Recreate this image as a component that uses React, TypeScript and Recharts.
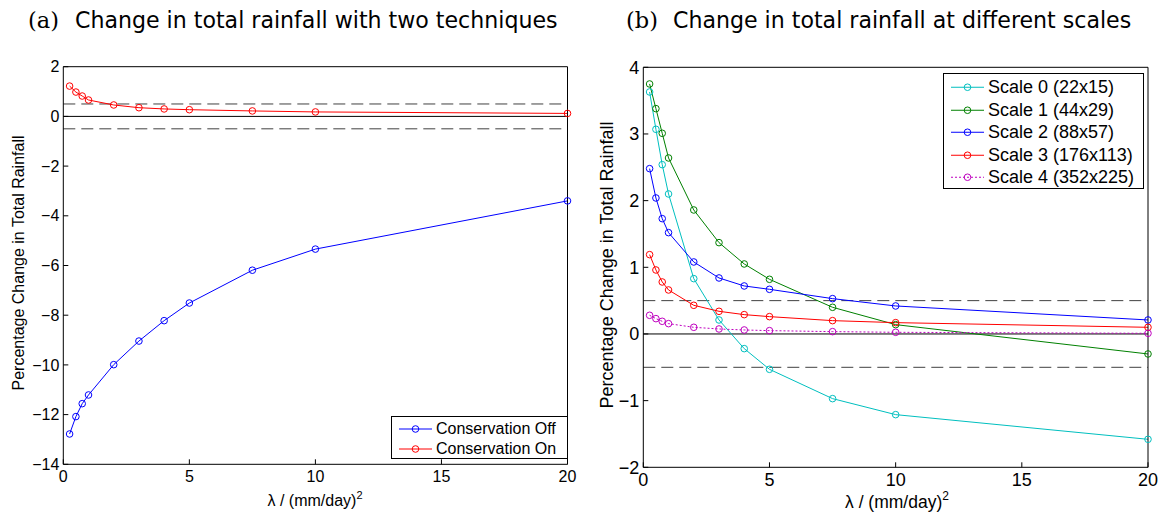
import React from "react";
import { LineChart, Line, XAxis, YAxis, ReferenceLine, Legend } from "recharts";

// lambda values (mm/day)^2, shared by every series
const lambdas = [0.25, 0.5, 0.75, 1, 2, 3, 4, 5, 7.5, 10, 20];

// (a) two techniques
const conservationOff = [-12.78, -12.08, -11.56, -11.21, -9.99, -9.04, -8.22, -7.51, -6.19, -5.34, -3.4];
const conservationOn = [1.22, 0.98, 0.82, 0.66, 0.46, 0.35, 0.3, 0.27, 0.22, 0.18, 0.12];

// (b) different scales
const scale0 = [3.63, 3.07, 2.54, 2.1, 0.83, 0.21, -0.22, -0.53, -0.97, -1.21, -1.58];
const scale1 = [3.75, 3.38, 3.01, 2.64, 1.86, 1.37, 1.05, 0.82, 0.4, 0.14, -0.3];
const scale2 = [2.48, 2.04, 1.73, 1.52, 1.08, 0.84, 0.72, 0.67, 0.53, 0.42, 0.21];
const scale3 = [1.19, 0.96, 0.78, 0.66, 0.43, 0.34, 0.29, 0.26, 0.2, 0.17, 0.1];
const scale4 = [0.28, 0.23, 0.19, 0.155, 0.1, 0.075, 0.06, 0.05, 0.035, 0.025, 0.01];

const xTicks = [0, 5, 10, 15, 20];
const yTicksA = [2, 0, -2, -4, -6, -8, -10, -12, -14];
const yTicksB = [4, 3, 2, 1, 0, -1, -2];
const thresholds = [0.5, -0.5];

const seriesA = [
  { key: "off", name: "Conservation Off", color: "#0000ff", values: conservationOff, dash: undefined },
  { key: "on", name: "Conservation On", color: "#ff0000", values: conservationOn, dash: undefined },
];

const seriesB = [
  { key: "s0", name: "Scale 0 (22x15)", color: "#00bfbf", values: scale0, dash: undefined },
  { key: "s1", name: "Scale 1 (44x29)", color: "#008000", values: scale1, dash: undefined },
  { key: "s2", name: "Scale 2 (88x57)", color: "#0000ff", values: scale2, dash: undefined },
  { key: "s3", name: "Scale 3 (176x113)", color: "#ff0000", values: scale3, dash: undefined },
  { key: "s4", name: "Scale 4 (352x225)", color: "#bf00bf", values: scale4, dash: "2 2" },
];

type Series = { key: string; name: string; color: string; values: number[]; dash?: string };

function buildRows(series: Series[]) {
  return lambdas.map((x, i) => {
    const row: Record<string, number> = { x };
    for (const s of series) row[s.key] = s.values[i];
    return row;
  });
}

const FONT = "'Liberation Sans', Arial, Helvetica, sans-serif";
const minus = (v: number) => String(v).replace("-", "\u2212");

function LegendBox({ items, fontSize, rowHeight, width, height }: {
  items: Series[]; fontSize: number; rowHeight: number; width: number; height: number;
}) {
  return (
    <div style={{ width, height, boxSizing: "border-box", border: "1px solid #000", background: "#fff", paddingTop: 2, fontFamily: FONT }}>
      {items.map(it => (
        <div key={it.key} style={{ display: "flex", alignItems: "center", height: rowHeight }}>
          <svg width={44} height={rowHeight} style={{ flex: "none" }}>
            <line x1={7} x2={40} y1={rowHeight / 2} y2={rowHeight / 2} stroke={it.color} strokeWidth={1} strokeDasharray={it.dash} />
            <circle cx={23.5} cy={rowHeight / 2} r={3.3} stroke={it.color} fill="none" strokeWidth={1} />
          </svg>
          <span style={{ fontSize, color: "#000", whiteSpace: "nowrap", lineHeight: 1 }}>{it.name}</span>
        </div>
      ))}
    </div>
  );
}

// plot box in chart coordinates: left, top, right, bottom edges
function Panel({ series, width, box, yDomain, yTicks, fontSize, legend }: {
  series: Series[];
  width: number;
  box: { left: number; top: number; right: number; bottom: number };
  yDomain: [number, number];
  yTicks: number[];
  fontSize: number;
  legend: { left: number; top: number; width: number; height: number; rowHeight: number; fontSize: number };
}) {
  const rows = buildRows(series);
  const tickStyle = { fontSize, fill: "#000", fontFamily: FONT };
  const axisW = 50;
  const axisH = 30;
  const margin = {
    top: box.top - 1,
    left: box.left - axisW,
    right: width - box.right - 1,
    bottom: 519 - box.bottom - axisH,
  };
  return (
    <LineChart width={width} height={519} data={rows} margin={margin} style={{ fontFamily: FONT }}>
      <XAxis dataKey="x" type="number" domain={[0, 20]} ticks={xTicks} interval={0} height={axisH}
        tickSize={-5} tickMargin={11} tick={tickStyle} axisLine={{ stroke: "#000" }} tickLine={{ stroke: "#000" }} />
      <XAxis xAxisId="top" dataKey="x" type="number" orientation="top" domain={[0, 20]} ticks={xTicks} interval={0}
        height={1} tickSize={-5} tick={false} axisLine={{ stroke: "#000" }} tickLine={{ stroke: "#000" }} />
      <YAxis type="number" domain={yDomain} ticks={yTicks} interval={0} width={axisW} tickSize={-5} tickMargin={9}
        tick={tickStyle} tickFormatter={minus} axisLine={{ stroke: "#000" }} tickLine={{ stroke: "#000" }} />
      <YAxis yAxisId="right" type="number" orientation="right" domain={yDomain} ticks={yTicks} interval={0} width={1}
        tickSize={-5} tick={false} axisLine={{ stroke: "#000" }} tickLine={{ stroke: "#000" }} />
      {thresholds.map(t => (
        <ReferenceLine key={t} y={t} stroke="#404040" strokeWidth={1} strokeDasharray="12 6" />
      ))}
      <ReferenceLine y={0} stroke="#000" strokeWidth={1} />
      {series.map(s => (
        <Line key={s.key} type="linear" dataKey={s.key} name={s.name} stroke={s.color} strokeWidth={1}
          strokeDasharray={s.dash} dot={{ r: 3.3, stroke: s.color, fill: "none", strokeWidth: 1, strokeDasharray: "" }}
          activeDot={false} isAnimationActive={false} />
      ))}
      <Legend layout="vertical" align="center" verticalAlign="middle"
        wrapperStyle={{ left: legend.left, top: legend.top, width: legend.width, height: legend.height }}
        content={() => (
          <LegendBox items={series} fontSize={legend.fontSize} rowHeight={legend.rowHeight}
            width={legend.width} height={legend.height} />
        )} />
    </LineChart>
  );
}

export default function App() {
  return (
    <div style={{ position: "absolute", left: 0, top: 0, width: 1173, height: 519, background: "#fff" }}>
      <div style={{ position: "absolute", left: 0, top: 0 }}>
        <Panel series={seriesA} width={580} box={{ left: 63.3, top: 66.7, right: 567.5, bottom: 464.3 }}
          yDomain={[-14, 2]} yTicks={yTicksA} fontSize={16}
          legend={{ left: 391, top: 416, width: 177, height: 43, rowHeight: 20, fontSize: 16 }} />
      </div>
      <div style={{ position: "absolute", left: 580, top: 0 }}>
        <Panel series={seriesB} width={593} box={{ left: 63.3, top: 67.3, right: 568, bottom: 467.3 }}
          yDomain={[-2, 4]} yTicks={yTicksB} fontSize={18}
          legend={{ left: 363, top: 73, width: 201, height: 116, rowHeight: 22.5, fontSize: 18 }} />
      </div>
      <svg width={1173} height={519} style={{ position: "absolute", left: 0, top: 0, pointerEvents: "none" }}>
        <text x={28} y={28} fontFamily="'DejaVu Serif', serif" fontSize={22.5}>(a)</text>
        <text x={75} y={28} fontFamily="'DejaVu Sans', sans-serif" fontSize={22.1}>Change in total rainfall with two techniques</text>
        <text x={626} y={28} fontFamily="'DejaVu Serif', serif" fontSize={22.5}>(b)</text>
        <text x={673} y={28} fontFamily="'DejaVu Sans', sans-serif" fontSize={22.1}>Change in total rainfall at different scales</text>

        <text transform="translate(24,263) rotate(-90)" textAnchor="middle" fontFamily={FONT} fontSize={16}>
          Percentage Change in Total Rainfall
        </text>
        <text transform="translate(612.5,265) rotate(-90)" textAnchor="middle" fontFamily={FONT} fontSize={18}>
          Percentage Change in Total Rainfall
        </text>

        <text x={315} y={506} textAnchor="middle" fontFamily={FONT} fontSize={16}>
          λ / (mm/day)<tspan dy={-7} fontSize={11}>2</tspan>
        </text>
        <text x={897} y={508} textAnchor="middle" fontFamily={FONT} fontSize={17.5}>
          λ / (mm/day)<tspan dy={-8} fontSize={12}>2</tspan>
        </text>
      </svg>
    </div>
  );
}
